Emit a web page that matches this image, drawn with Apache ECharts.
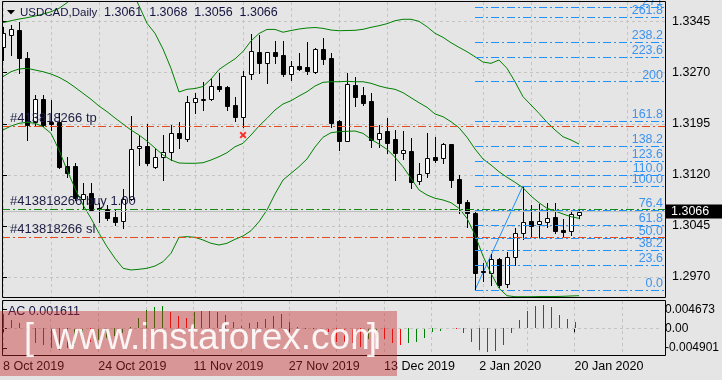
<!DOCTYPE html>
<html><head><meta charset="utf-8">
<script src="https://cdn.jsdelivr.net/npm/echarts@6/dist/echarts.min.js"></script>
<style>html,body{margin:0;padding:0;background:#e5e5e5}#c{width:722px;height:380px}</style>
</head><body><div id="c"></div>
<script>
// ---------- data ----------
const symbolTitle = 'USDCAD,Daily';
const dateTicks = [0, 12, 24, 36, 48, 60, 72];
const dateLabels = ['8 Oct 2019', '24 Oct 2019', '11 Nov 2019', '27 Nov 2019', '13 Dec 2019', '2 Jan 2020', '20 Jan 2020'];
const priceTicks = [1.2970, 1.3045, 1.3120, 1.3195, 1.3270, 1.3345];
const acTicks = [-0.004901, 0, 0.004673];

const open = [
1.33082,1.33254,1.33327,1.32912,1.31981,1.3231,1.31981,1.31981,1.3133,1.3133,
1.30845,1.30929,1.30718,1.30694,1.30585,1.30522,1.3084,1.3159,1.31624,1.3132,
1.31467,1.3154,1.3181,1.31722,1.32265,1.32299,1.3231,1.32505,1.32486,1.32226,
1.32054,1.32681,1.33009,1.32838,1.33004,1.32956,1.32681,1.32794,1.32779,1.32706,
1.33044,1.32912,1.31991,1.31702,1.3252,1.32373,1.32285,1.31722,1.31844,1.31722,
1.31516,1.3155,1.31114,1.31223,1.31462,1.31443,1.31653,1.31139,1.30806,1.30644,
1.29795,1.29763,1.2996,1.29597,1.29989,1.30342,1.30522,1.30478,1.30503,1.30577,
1.3039,1.3038,1.3061];
const high = [
1.33376,1.33401,1.33449,1.33009,1.32373,1.32373,1.32299,1.32108,1.31467,1.3137,
1.31085,1.31085,1.3079,1.30757,1.30694,1.30988,1.32064,1.31785,1.31947,1.3159,
1.31785,1.31932,1.31972,1.32358,1.32407,1.32568,1.32618,1.327,1.325,1.32348,
1.32725,1.33269,1.33254,1.33009,1.3317,1.33166,1.32877,1.32985,1.33147,1.33059,
1.33205,1.32985,1.32,1.32691,1.32641,1.32486,1.32398,1.31932,1.32031,1.31859,
1.31844,1.31737,1.3137,1.3181,1.3176,1.31663,1.3166,1.31198,1.30831,1.30659,
1.29905,1.30038,1.29974,1.30071,1.30415,1.3104,1.30757,1.30767,1.30782,1.30782,
1.30547,1.30684,1.3068];
const low = [
1.32887,1.3296,1.32691,1.31712,1.31932,1.31917,1.31859,1.31301,1.31173,1.30831,
1.30709,1.30673,1.30512,1.30537,1.30463,1.30415,1.30831,1.31345,1.31345,1.31296,
1.31124,1.31418,1.3159,1.31702,1.32113,1.32152,1.32299,1.32436,1.32152,1.31995,
1.31907,1.32608,1.32691,1.32545,1.32847,1.32656,1.32593,1.3274,1.32681,1.32696,
1.32824,1.31907,1.31565,1.31695,1.32211,1.32226,1.31613,1.31613,1.31516,1.31124,
1.31428,1.31011,1.31066,1.31173,1.31393,1.31378,1.31026,1.30635,1.30438,1.2951,
1.29641,1.29582,1.29548,1.29548,1.29876,1.30253,1.30292,1.30292,1.30438,1.30342,
1.30302,1.30317,1.3056];
const close = [
1.33279,1.33338,1.32912,1.31932,1.3231,1.31932,1.31947,1.3132,1.31223,1.30856,
1.30914,1.30684,1.30694,1.30562,1.30512,1.3084,1.31575,1.31624,1.3137,1.31458,
1.3154,1.3181,1.31737,1.32274,1.32324,1.32318,1.32505,1.32465,1.32211,1.32045,
1.32656,1.33023,1.32847,1.33,1.3295,1.32686,1.32794,1.32759,1.32725,1.33044,
1.32906,1.31966,1.31702,1.3253,1.32348,1.3226,1.31712,1.3182,1.31672,1.31525,
1.31565,1.31099,1.31212,1.31443,1.31423,1.31653,1.31124,1.30791,1.30644,1.29754,
1.29766,1.2996,1.29582,1.29998,1.30342,1.30512,1.30453,1.30522,1.30562,1.3038,
1.30365,1.30625,1.3066];

const upperBand = [
1.33435,1.33464,1.33489,1.33508,1.33533,1.33562,1.33596,1.33646,1.33728,1.33841,
1.33944,1.34032,1.34091,1.3412,1.3412,1.34062,1.3393,1.33684,1.33426,1.33279,
1.33048,1.32765,1.32417,1.32457,1.32468,1.32498,1.32608,1.32747,1.32828,1.32904,
1.33012,1.33166,1.33276,1.33336,1.33336,1.33295,1.3332,1.33342,1.33357,1.33364,
1.33352,1.33327,1.33317,1.3332,1.33323,1.33338,1.33367,1.33391,1.3342,1.33464,
1.33485,1.33485,1.33455,1.33376,1.33279,1.3322,1.33141,1.33073,1.33009,1.32935,
1.32857,1.32838,1.32887,1.32765,1.32568,1.32348,1.32226,1.32104,1.31972,1.31859,
1.3176,1.31712,1.31653];
const middleBand = [
1.32642,1.32715,1.32755,1.32765,1.3274,1.32715,1.32681,1.32633,1.32568,1.32486,
1.32398,1.3231,1.32211,1.32128,1.32035,1.31947,1.31859,1.31785,1.31697,1.31594,
1.31492,1.31418,1.31374,1.3137,1.3137,1.31378,1.31418,1.31467,1.31525,1.31613,
1.31663,1.31785,1.31917,1.32031,1.32152,1.32241,1.32289,1.32358,1.32421,1.32505,
1.32559,1.32568,1.32568,1.32574,1.32568,1.32568,1.32545,1.32505,1.32476,1.32457,
1.32407,1.32333,1.3226,1.32192,1.32094,1.32054,1.31981,1.31893,1.31752,1.3158,
1.31433,1.31345,1.31246,1.31164,1.31091,1.31011,1.30889,1.30791,1.30709,1.30669,
1.30625,1.30585,1.30562];
const lowerBand = [
1.31859,1.31917,1.31957,1.31972,1.31957,1.31907,1.3181,1.31565,1.31271,1.31002,
1.30757,1.30562,1.30342,1.30145,1.29974,1.29828,1.29803,1.29813,1.29828,1.29861,
1.29924,1.30048,1.30283,1.30292,1.30283,1.30243,1.30195,1.3017,1.30195,1.30253,
1.30302,1.3038,1.30512,1.30684,1.30919,1.31124,1.31223,1.3132,1.31433,1.31609,
1.31752,1.31819,1.31834,1.3184,1.31844,1.3181,1.31722,1.31653,1.31575,1.31458,
1.3132,1.31149,1.30978,1.30904,1.30856,1.30831,1.30791,1.30709,1.30562,1.30317,
1.30008,1.29754,1.29534,1.29425,1.2941,1.2941,1.2941,1.29413,1.29413,1.29413,
1.29416,1.29421,1.29425];

const acValues = [
0.00353,0.00209,0.00126,-0.00076,-0.00378,-0.00421,-0.00504,-0.00547,-0.00504,-0.00421,
-0.00328,-0.00353,-0.00302,-0.00252,-0.00202,-0.00126,0.00043,0.0027,0.00461,0.00529,
0.00562,0.00421,0.0032,0.0027,0.00403,0.00446,0.00428,0.00416,0.00335,0.00169,
0.00068,0.00126,0.00169,0.00234,0.0032,0.0036,0.00169,0.00025,-0.00013,-0.00005,
-0.00025,-0.00083,-0.00335,-0.00353,-0.00378,-0.00461,-0.00265,-0.00244,-0.0026,-0.00378,
-0.00421,-0.00378,-0.00335,-0.00234,-0.00101,-0.00058,-0.00018,-0.0002,-0.00126,-0.00353,
-0.00547,-0.00605,-0.00572,-0.00421,-0.00126,0.00209,0.00436,0.00562,0.00587,0.00547,
0.00335,0.00234,0.00161];
const acTitleValue = '0.001611';

const fibLabels = ['0.0','23.6','38.2','50.0','61.8','76.4','100.0','110.0','123.6','138.2','161.8','200','223.6','238.2','261.8','271'];
const fibFromBar = 59, fibToBar = 65;
const orderId = '#413818266';
const tpPrice = 1.3192, buyPrice = 1.30695, slPrice = 1.30283;
const markBar = 30, markPrice = 1.31785;

// ---------- chart ----------
const FONT = 'Liberation Sans';
const xMin = -0.125, xMax = 82.75;
const gridBars = []; for (let k = 0; k <= 78; k += 6) gridBars.push(k);
const N = open.length;
const last = N - 1;
const candleData = open.map((o, i) => [i, o, high[i], low[i], close[i]]);
const band = arr => arr.map((v, i) => [i, v]);
const acData = acValues.map((v, i) => [i, v, (i === 0 || v > acValues[i - 1]) ? 1 : 0]);
const fibLow = low[fibFromBar], fibHigh = high[fibToBar];
const fibLines = fibLabels.map(s => {
  const p = fibLow + parseFloat(s) / 100 * (fibHigh - fibLow);
  return [{ coord: [fibFromBar, p], label: { formatter: s } }, { coord: [xMax, p] }];
});
const fmt = v => v.toFixed(4);
const gridCol = '#c4c4c4';
const lineDash = [8, 3, 2, 3];
const orderLine = (price, color, text) => [
  { coord: [xMin, price], lineStyle: { color: color, type: lineDash, width: 1 }, label: { formatter: text } },
  { coord: [xMax, price] }
];

function renderCandle(params, api) {
  const i = api.value(0), o = api.value(1), h = api.value(2), l = api.value(3), c = api.value(4);
  const po = api.coord([i, o]), pc = api.coord([i, c]), ph = api.coord([i, h]), pl = api.coord([i, l]);
  const cx = Math.round(po[0]);
  const top = Math.round(Math.min(po[1], pc[1])), bot = Math.round(Math.max(po[1], pc[1]));
  const bull = c >= o;
  return { type: 'group', children: [
    { type: 'line', shape: { x1: cx + 0.5, y1: Math.round(ph[1]), x2: cx + 0.5, y2: Math.round(pl[1]) + 1 }, style: { stroke: '#000', lineWidth: 1 } },
    { type: 'rect', shape: { x: cx - 1.5, y: top + 0.5, width: 4, height: Math.max(bot - top, 1) }, style: { fill: bull ? '#fff' : '#000', stroke: '#000', lineWidth: 1 } }
  ]};
}
function renderAC(params, api) {
  const i = api.value(0), v = api.value(1), up = api.value(2);
  const p0 = api.coord([i, 0]), p1 = api.coord([i, v]);
  const cx = Math.round(p0[0]);
  return { type: 'line', shape: { x1: cx + 0.5, y1: Math.round(p0[1]), x2: cx + 0.5, y2: Math.round(p1[1]) }, style: { stroke: up ? '#008000' : '#ff0000', lineWidth: 1 } };
}

const chart = echarts.init(document.getElementById('c'), null, { renderer: 'canvas' });
chart.setOption({
  backgroundColor: '#e5e5e5',
  animation: false,
  textStyle: { fontFamily: FONT },
  grid: [
    { left: 2, top: 2, width: 663, height: 295 },
    { left: 2, top: 301, width: 663, height: 55 }
  ],
  xAxis: [
    { type: 'value', gridIndex: 0, min: xMin, max: xMax, axisLine: { show: false }, axisLabel: { show: false },
      axisTick: { show: false, customValues: gridBars }, splitLine: { show: true, lineStyle: { color: gridCol, type: [3, 3] } } },
    { type: 'value', gridIndex: 1, min: xMin, max: xMax, position: 'bottom', axisLine: { show: false },
      axisTick: { show: true, length: 4, customValues: dateTicks, lineStyle: { color: '#000' } },
      axisLabel: { customValues: dateTicks, formatter: v => dateLabels[dateTicks.indexOf(Math.round(v))], align: 'left', margin: 4, color: '#000', fontSize: 12.5, fontFamily: FONT },
      splitLine: { show: false } },
    { type: 'value', gridIndex: 1, min: xMin, max: xMax, position: 'top', axisLine: { show: false }, axisLabel: { show: false },
      axisTick: { show: false, customValues: gridBars }, splitLine: { show: true, lineStyle: { color: gridCol, type: [3, 3] } } }
  ],
  yAxis: [
    { type: 'value', gridIndex: 0, position: 'right', min: 1.29406, max: 1.33739, axisLine: { show: false },
      axisTick: { show: true, length: 4, customValues: priceTicks, lineStyle: { color: '#000' } },
      axisLabel: { customValues: priceTicks, formatter: fmt, color: '#000', fontSize: 12.5, fontFamily: FONT, margin: 7 },
      splitLine: { show: true, lineStyle: { color: gridCol, type: [3, 3] } } },
    { type: 'value', gridIndex: 1, position: 'right', min: -0.006977, max: 0.006877, axisLine: { show: false },
      axisTick: { show: true, length: 4, customValues: acTicks, lineStyle: { color: '#000' } },
      axisLabel: { customValues: acTicks, formatter: v => (v === 0 ? '0.00' : v.toFixed(6)), color: '#000', fontSize: 12, fontFamily: FONT, margin: 5 },
      splitLine: { show: false } }
  ],
  series: [
    { type: 'line', name: 'bid', xAxisIndex: 0, yAxisIndex: 0, z: 1, showSymbol: false, silent: true,
      data: [[xMin, close[last]], [xMax, close[last]]], lineStyle: { color: '#c0c0c0', width: 1 },
      markLine: { silent: true, symbol: ['none', 'none'], animation: false,
        label: { position: 'insideStartTop', distance: [8, 1], color: '#1c1c44', fontSize: 13, fontFamily: FONT },
        data: [
          orderLine(tpPrice, '#e64a19', orderId + ' tp'),
          orderLine(buyPrice, '#138a13', orderId + ' buy 1.00'),
          orderLine(slPrice, '#e64a19', orderId + ' sl'),
          [ { coord: [xMin, close[last]], lineStyle: { color: '#c0c0c0', type: 'solid', width: 1 },
              label: { position: 'end', distance: 1, formatter: fmt(close[last]), color: '#fff', backgroundColor: '#000', padding: [1, 20, 0, 5], fontSize: 12.5, fontFamily: FONT } },
            { coord: [xMax, close[last]] } ]
        ] } },
    { type: 'line', name: 'fibo', xAxisIndex: 0, yAxisIndex: 0, data: [[fibFromBar, fibLow], [fibToBar, fibHigh]], z: 2,
      showSymbol: false, lineStyle: { color: '#1e90ff', width: 1 },
      markLine: { silent: true, symbol: ['none', 'none'], animation: false,
        lineStyle: { color: '#1e90ff', type: lineDash, width: 1 },
        label: { position: 'insideEndTop', distance: [2, 0], color: '#3d93f0', fontSize: 12.5, fontFamily: FONT },
        data: fibLines } },
    { type: 'custom', name: 'candles', xAxisIndex: 0, yAxisIndex: 0, renderItem: renderCandle, clip: true, z: 3,
      dimensions: ['i', 'open', 'high', 'low', 'close'], encode: { x: 0, y: [1, 2, 3, 4] }, data: candleData },
    { type: 'line', name: 'upper', xAxisIndex: 0, yAxisIndex: 0, data: band(upperBand), showSymbol: false, clip: true, z: 4, lineStyle: { color: '#008000', width: 1 } },
    { type: 'line', name: 'middle', xAxisIndex: 0, yAxisIndex: 0, data: band(middleBand), showSymbol: false, clip: true, z: 4, lineStyle: { color: '#008000', width: 1 } },
    { type: 'line', name: 'lower', xAxisIndex: 0, yAxisIndex: 0, data: band(lowerBand), showSymbol: false, clip: true, z: 4, lineStyle: { color: '#008000', width: 1 } },
    { type: 'scatter', name: 'mark', xAxisIndex: 0, yAxisIndex: 0, data: [[markBar, markPrice]], z: 5,
      symbol: 'path://M0,2L2,0L5,3L8,0L10,2L7,5L10,8L8,10L5,7L2,10L0,8L3,5Z', symbolSize: 7, itemStyle: { color: '#ff0000' } },
    { type: 'custom', name: 'AC', xAxisIndex: 1, yAxisIndex: 1, renderItem: renderAC, clip: true, z: 3,
      dimensions: ['i', 'v', 'up'], encode: { x: 0, y: 1 }, data: acData,
      markLine: { silent: true, symbol: ['none', 'none'], animation: false, label: { show: false },
        lineStyle: { color: gridCol, type: [3, 3], width: 1 }, data: [[{ coord: [xMin, 0] }, { coord: [xMax, 0] }]] } }
  ],
  graphic: [
    { type: 'rect', z: 50, silent: true, shape: { x: 2.5, y: 1.5, width: 663, height: 296 }, style: { fill: null, stroke: '#000', lineWidth: 1 } },
    { type: 'rect', z: 50, silent: true, shape: { x: 2.5, y: 300.5, width: 663, height: 55 }, style: { fill: null, stroke: '#000', lineWidth: 1 } },
    { type: 'polygon', z: 50, silent: true, shape: { points: [[7, 10], [15, 10], [11, 14.5]] }, style: { fill: '#000' } },
    { type: 'text', z: 50, silent: true, x: 20, y: 13, style: { text: symbolTitle, fill: '#141440', font: '11.5px "Liberation Sans"', verticalAlign: 'middle' } },
    { type: 'text', z: 50, silent: true, x: 104, y: 13, style: { text: [open[last], high[last], low[last], close[last]].map(fmt).join('  '), fill: '#141440', font: '12.5px "Liberation Sans"', verticalAlign: 'middle' } },
    { type: 'text', z: 50, silent: true, x: 8, y: 312, style: { text: 'AC ' + acTitleValue, fill: '#141440', font: '12.5px "Liberation Sans"', verticalAlign: 'middle' } },
    { type: 'rect', z: 100, silent: true, shape: { x: 0, y: 311, width: 397, height: 65 }, style: { fill: 'rgba(200,40,40,0.42)' } },
    { type: 'text', z: 101, silent: true, x: 24, y: 357, style: { text: '[', fill: 'rgba(255,255,255,0.9)', font: '36px "Liberation Sans"', verticalAlign: 'bottom' } },
    { type: 'text', z: 101, silent: true, x: 52, y: 357, style: { text: 'www.instaforex.com', fill: 'rgba(255,255,255,0.9)', font: '37px "Liberation Sans"', verticalAlign: 'bottom' } },
    { type: 'text', z: 101, silent: true, x: 367, y: 357, style: { text: ']', fill: 'rgba(255,255,255,0.9)', font: '36px "Liberation Sans"', verticalAlign: 'bottom' } }
  ]
});
</script></body></html>
